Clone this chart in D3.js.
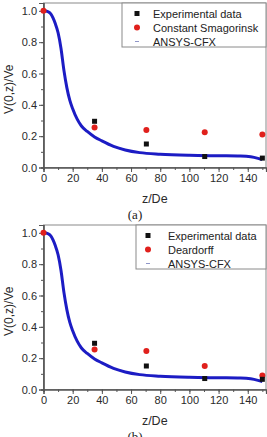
<!DOCTYPE html>
<html>
<head>
<meta charset="utf-8">
<script src="https://cdn.jsdelivr.net/npm/d3@7"></script>
<style>
  html, body { margin: 0; padding: 0; background: #fff; }
  svg { display: block; }
</style>
</head>
<body>
<svg id="chart" width="267" height="437"></svg>
<script>
// experimental data (same in both panels, last point differs slightly)
const expZ = [35, 70.5, 110.5, 150]
const expA = [0.295, 0.15, 0.07, 0.06]
const expB = [0.295, 0.15, 0.07, 0.065]

// LES models
const lesZ = [0, 35, 70.5, 110.5, 150]
const smagV = [1.0, 0.255, 0.24, 0.225, 0.21]
const deardV = [1.0, 0.255, 0.245, 0.15, 0.09]

// ANSYS-CFX centreline curve
const cfxZ = [0, 3, 5, 8, 10, 12, 14, 16, 18, 20, 23, 26, 30, 35, 40, 48, 56, 66, 80, 100, 120, 135, 142, 147, 150]
const cfxV = [1.0, 0.995, 0.98, 0.92, 0.86, 0.76, 0.62, 0.51, 0.43, 0.375, 0.31, 0.265, 0.23, 0.195, 0.17, 0.135, 0.112, 0.095, 0.085, 0.078, 0.075, 0.073, 0.068, 0.058, 0.05]

const xTicks = [0, 20, 40, 60, 80, 100, 120, 140]
const yTicks = [0.0, 0.2, 0.4, 0.6, 0.8, 1.0]

const panels = [
  { top: 3, exp: expA, les: smagV, name: 'Constant Smagorinsk', tag: '(a)', legLeft: 122, legMark: 137, legText: 153 },
  { top: 225, exp: expB, les: deardV, name: 'Deardorff', tag: '(b)', legLeft: 136, legMark: 148, legText: 168 }
]

const svg = d3.select('#chart')
const font = '"Liberation Sans", Arial, sans-serif'

const marginLeft = 43.5
const plotRight = 266
const plotHeight = 164.5

panels.forEach(p => {
  const bottom = p.top + plotHeight
  const x = d3.scaleLinear().domain([0, 152.5]).range([marginLeft, plotRight])
  const y = d3.scaleLinear().domain([0, 1.05]).range([bottom, p.top])

  const g = svg.append('g')

  // frame
  g.append('rect')
      .attr('x', marginLeft)
      .attr('y', p.top)
      .attr('width', plotRight - marginLeft)
      .attr('height', plotHeight)
      .attr('fill', 'none')
      .attr('stroke', '#8a8a8a')
      .attr('stroke-width', 1)

  // minor ticks
  const xAxisMinor = d3.axisBottom(x).tickValues(d3.range(0, 151, 10)).tickSize(2.5).tickFormat('')
  const yAxisMinor = d3.axisLeft(y).tickValues(d3.range(0, 1.01, 0.1)).tickSize(2.5).tickFormat('')
  g.append('g').attr('transform', `translate(0,${bottom})`).call(xAxisMinor)
  g.append('g').attr('transform', `translate(${marginLeft},0)`).call(yAxisMinor)

  // major axes
  const xAxis = g.append('g')
      .attr('transform', `translate(0,${bottom})`)
      .call(d3.axisBottom(x).tickValues(xTicks).tickSize(4.5).tickPadding(2).tickFormat(d3.format('d')))
  const yAxis = g.append('g')
      .attr('transform', `translate(${marginLeft},0)`)
      .call(d3.axisLeft(y).tickValues(yTicks).tickSize(4.5).tickPadding(2).tickFormat(d3.format('.1f')))

  g.selectAll('.domain').attr('stroke', '#555').attr('stroke-width', 1.2)
  g.selectAll('.tick line').attr('stroke', '#555')
  g.selectAll('.tick text')
      .attr('fill', '#2a2a2a')
      .style('font-family', font)
      .style('font-size', '11px')

  // axis titles
  g.append('text')
      .text('z/De')
      .attr('x', (marginLeft + plotRight) / 2)
      .attr('y', bottom + 35)
      .attr('text-anchor', 'middle')
      .attr('fill', '#2a2a2a')
      .style('font-family', font)
      .style('font-size', '12.5px')

  g.append('text')
      .text('V(0,z)/Ve')
      .attr('transform', `translate(13,${(p.top + bottom) / 2 + 4}) rotate(-90)`)
      .attr('text-anchor', 'middle')
      .attr('fill', '#2a2a2a')
      .style('font-family', font)
      .style('font-size', '12px')

  g.append('text')
      .text(p.tag)
      .attr('x', 135)
      .attr('y', bottom + 51)
      .attr('text-anchor', 'middle')
      .attr('fill', '#222')
      .style('font-family', '"Liberation Serif", "Times New Roman", serif')
      .style('font-size', '13px')

  // ANSYS-CFX curve
  const line = d3.line()
      .x((d, i) => x(cfxZ[i]))
      .y(d => y(d))
      .curve(d3.curveMonotoneX)

  g.append('path')
      .datum(cfxV)
      .attr('d', line)
      .attr('fill', 'none')
      .attr('stroke', '#1c1cc4')
      .attr('stroke-width', 3)

  // LES points
  g.selectAll('.les')
      .data(p.les)
      .join('circle')
      .attr('cx', (d, i) => x(lesZ[i]))
      .attr('cy', d => y(d))
      .attr('r', 3)
      .attr('fill', '#e0201c')

  // experimental points
  const s = 5
  g.selectAll('.exp')
      .data(p.exp)
      .join('rect')
      .attr('x', (d, i) => x(expZ[i]) - s / 2)
      .attr('y', d => y(d) - s / 2)
      .attr('width', s)
      .attr('height', s)
      .attr('fill', '#111')

  // legend
  const leg = g.append('g')
  leg.append('rect')
      .attr('x', p.legLeft)
      .attr('y', p.top)
      .attr('width', plotRight - p.legLeft)
      .attr('height', 44)
      .attr('fill', '#fff')
      .attr('stroke', '#8a8a8a')

  const rows = ['Experimental data', p.name, 'ANSYS-CFX']
  rows.forEach((label, i) => {
    const cy = p.top + 10.5 + i * 14
    if (i === 0) {
      leg.append('rect').attr('x', p.legMark - 2.5).attr('y', cy - 2.5).attr('width', 5).attr('height', 5).attr('fill', '#111')
    } else if (i === 1) {
      leg.append('circle').attr('cx', p.legMark).attr('cy', cy).attr('r', 3).attr('fill', '#e0201c')
    } else {
      leg.append('line').attr('x1', p.legMark - 2).attr('x2', p.legMark + 2).attr('y1', cy).attr('y2', cy)
          .attr('stroke', '#8f96c8').attr('stroke-width', 1)
    }
    leg.append('text')
        .text(label)
        .attr('x', p.legText)
        .attr('y', cy + 4)
        .attr('fill', '#222')
        .style('font-family', font)
        .style('font-size', '11px')
  })
})
</script>
</body>
</html>
